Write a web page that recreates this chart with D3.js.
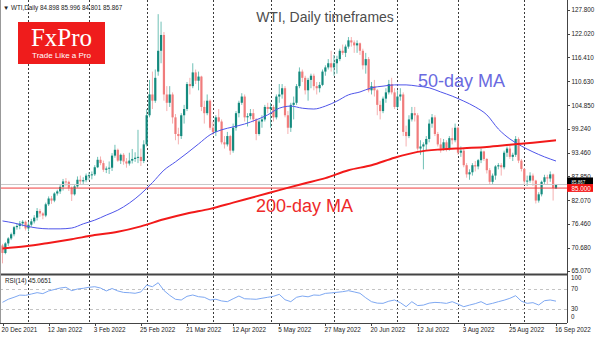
<!DOCTYPE html>
<html>
<head>
<meta charset="utf-8">
<script src="https://cdn.jsdelivr.net/npm/d3@7"></script>
<style>
  html, body { margin: 0; padding: 0; background: #fff; }
  svg { display: block; }
</style>
</head>
<body>
<svg id="chart" width="600" height="338"></svg>
<script>
// ---- data ---------------------------------------------------------------
const tickLabels = ["20 Dec 2021", "12 Jan 2022", "3 Feb 2022", "25 Feb 2022", "21 Mar 2022",
  "12 Apr 2022", "5 May 2022", "27 May 2022", "20 Jun 2022", "12 Jul 2022", "3 Aug 2022",
  "25 Aug 2022", "16 Sep 2022"];
const tickBars = [0, 16, 32, 48, 64, 80, 96, 112, 128, 144, 160, 176, 192];
const monthStartBars = [9, 30, 50, 73, 93, 115, 137, 158, 181];
const priceTicks = [127.800, 122.020, 116.410, 110.630, 104.850, 99.240, 93.460, 87.850,
  82.070, 76.460, 70.680, 65.070];
const rsiTicks = [100, 70, 30, 0];

const opens = [71.2,69.4,71.7,72.9,73.9,75.6,75.9,76.5,76.9,75.3,76.2,77.0,77.9,79.5,78.9,78.4,81.1,82.5,82.0,83.7,
  84.2,85.3,86.6,86.5,85.1,83.5,85.4,87.0,86.6,86.9,88.0,88.1,88.3,90.0,91.8,91.0,89.4,89.7,89.9,92.8,
  94.2,91.6,93.0,91.4,90.9,91.6,92.0,92.3,92.5,91.5,95.5,102.5,107.5,106.0,113.0,118.0,121.8,107.5,105.5,107.5,
  102.0,98.0,97.5,102.5,104.0,110.0,109.5,112.8,110.8,111.8,104.5,103.0,106.0,99.5,98.5,102.0,101.0,96.0,95.5,97.5,
  94.0,99.5,103.0,105.5,107.0,102.0,102.3,103.0,101.5,98.0,101.0,101.5,104.5,104.0,104.5,102.0,107.0,107.5,109.0,102.5,
  99.5,105.0,105.5,109.5,113.0,111.5,108.5,111.0,112.0,109.5,109.0,109.8,113.0,114.0,115.0,114.0,115.0,116.0,118.0,117.5,
  119.0,120.5,120.0,119.3,119.8,118.0,114.5,116.0,108.5,109.5,108.5,105.0,103.5,106.5,108.0,110.0,108.0,104.5,107.0,107.5,
  98.5,97.5,101.5,103.0,102.5,94.5,95.0,95.5,96.8,100.5,102.0,98.0,95.5,94.5,96.0,94.5,97.0,96.5,99.5,93.5,
  94.0,90.5,88.3,88.8,90.5,90.2,91.7,93.8,92.0,89.3,86.5,88.0,90.2,90.5,90.0,93.5,94.5,92.5,93.0,96.8,
  91.6,89.6,86.6,86.8,88.0,86.8,82.0,83.5,86.5,87.6,87.3,88.3,84.898];
const highs = [71.6,72.0,73.2,74.3,75.9,76.6,77.1,77.3,77.2,76.9,77.6,78.5,80.2,80.0,79.2,81.5,83.0,83.1,84.0,84.6,
  85.8,87.2,87.4,86.8,85.4,85.8,87.8,88.0,87.6,88.5,88.8,89.0,90.5,92.5,92.6,91.6,90.2,91.4,93.4,95.4,
  94.5,93.3,93.4,92.2,93.5,94.4,93.6,99.0,94.5,96.5,104.0,111.0,113.0,113.5,126.8,125.0,122.5,109.5,109.5,108.0,
  102.8,99.5,103.0,105.0,110.5,111.5,115.0,113.5,113.0,112.0,106.0,107.5,106.3,101.0,102.5,104.0,101.5,97.5,98.5,97.8,
  100.5,103.5,106.0,107.8,107.5,103.0,104.0,104.0,101.8,101.5,102.5,105.0,105.5,105.5,105.0,107.5,110.0,110.0,109.5,103.5,
  105.5,107.0,110.0,114.0,113.5,112.0,111.5,112.5,112.5,110.5,110.5,113.5,114.5,116.0,118.0,117.0,116.8,118.5,119.5,119.5,
  121.3,121.3,120.5,120.5,120.0,118.5,117.5,116.5,110.5,111.0,108.8,106.0,107.0,109.0,111.0,111.5,109.0,108.5,109.0,108.0,
  100.0,102.5,104.5,104.5,103.0,96.5,96.0,97.5,101.5,102.8,102.5,98.5,97.0,96.8,96.5,97.5,99.5,100.5,99.8,95.0,
  94.5,91.0,89.5,91.0,91.5,92.0,94.5,94.0,92.2,89.8,88.5,90.5,91.0,91.0,94.0,95.0,95.2,93.5,97.5,97.2,
  92.0,89.8,88.0,88.8,88.5,87.0,84.0,86.8,88.2,88.2,89.0,88.5,85.996];
const lows = [66.9,69.1,71.1,72.5,73.4,75.0,75.1,75.8,74.8,74.6,75.7,76.5,77.2,78.1,77.5,78.0,80.7,81.2,81.6,83.2,
  83.6,84.4,85.4,84.3,81.9,83.2,85.1,85.8,86.0,86.4,86.9,87.1,87.9,89.8,90.5,88.9,88.6,88.4,89.1,92.3,
  91.3,90.8,90.6,89.9,90.4,90.9,91.3,91.0,90.3,91.0,95.0,102.0,104.0,105.5,112.0,115.0,106.0,103.5,104.5,100.5,
  96.5,95.5,96.8,100.5,103.5,107.5,109.0,110.0,108.5,103.5,100.5,102.5,99.0,97.8,97.5,100.8,95.5,94.5,95.0,93.0,
  93.5,98.8,102.0,105.0,101.0,99.8,101.5,100.8,96.5,97.6,99.5,101.0,103.0,99.5,101.0,101.5,105.5,106.5,102.0,98.0,
  98.5,101.5,105.0,109.0,110.5,107.5,106.0,109.0,108.5,107.5,108.0,109.5,112.0,113.5,113.0,112.0,112.5,115.5,117.0,116.5,
  118.5,119.0,117.5,117.5,117.0,113.5,112.5,108.0,107.5,107.0,102.5,101.5,103.0,105.5,107.5,107.5,104.0,104.0,106.0,97.5,
  95.0,97.0,101.0,101.0,94.0,93.0,89.5,94.0,96.0,99.5,97.5,95.0,93.5,94.0,93.8,94.0,95.5,96.0,93.0,92.5,
  90.0,87.5,87.0,88.0,89.0,89.5,91.0,91.5,88.5,85.8,86.0,87.0,89.5,88.0,89.5,92.5,92.0,91.5,92.5,91.0,
  89.0,86.0,85.5,86.3,85.5,81.3,81.5,83.0,86.0,86.0,86.5,82.0,84.801];
const closes = [69.4,71.7,72.9,73.9,75.6,75.9,76.5,76.9,75.3,76.2,77.0,77.9,79.5,78.9,78.4,81.1,82.5,82.0,83.7,84.2,
  85.3,86.6,86.5,85.1,83.5,85.4,87.0,86.6,86.9,88.0,88.1,88.3,90.0,91.8,91.0,89.4,89.7,89.9,92.8,94.2,
  91.6,93.0,91.4,90.9,91.6,92.0,92.3,92.5,91.5,95.5,102.5,107.5,106.0,111.5,118.0,121.8,107.5,105.5,107.5,102.0,
  98.0,97.5,102.5,104.0,110.0,109.5,112.8,110.8,111.8,104.5,103.0,106.0,99.5,98.5,102.0,101.0,96.0,95.5,97.5,94.0,
  99.5,103.0,105.5,107.0,102.0,102.3,103.0,101.5,98.0,101.0,101.5,104.5,104.0,104.5,102.0,107.0,107.5,109.0,102.5,99.5,
  105.0,105.5,109.5,113.0,111.5,108.5,111.0,112.0,109.5,109.0,109.8,113.0,114.0,115.0,114.0,115.0,116.0,118.0,117.5,119.0,
  120.5,120.0,119.3,119.8,118.0,114.5,116.0,108.5,109.5,108.5,105.0,103.5,106.5,108.0,110.0,108.0,104.5,107.0,107.5,98.5,
  97.5,101.5,103.0,102.5,94.5,95.0,95.5,96.8,100.5,102.0,98.0,95.5,94.5,96.0,94.5,97.0,96.5,99.5,93.5,94.0,
  90.5,88.3,88.8,90.5,90.2,91.7,93.8,92.0,89.3,86.5,88.0,90.2,90.5,90.0,93.5,94.5,92.5,93.0,96.8,91.6,
  89.6,86.6,86.8,88.0,86.8,82.0,83.5,86.5,87.6,87.3,88.3,85.0,85.867];

// moving averages, one reading every few bars
const ma50Step = 4;
const ma50 = [77.1,76.6,75.9,75.4,75.2,75.2,75.4,76.4,77.3,78.5,79.7,81.4,83.6,86.3,89.3,91.3,93.4,95.6,97.8,99.0,
  99.7,100.4,101.4,102.6,104.2,104.7,104.2,104.0,104.7,105.9,107.4,108.1,109.1,109.5,109.8,109.8,109.5,109.1,108.1,107.1,
  105.9,104.5,102.6,99.2,96.8,95.1,93.7,92.5,91.5];
const ma200Step = 8;
const ma200 = [70.5,71.0,71.8,72.7,73.7,74.5,75.8,77.5,78.9,80.0,81.5,83.0,84.5,86.0,87.4,89.3,90.5,92.3,93.7,94.3,
  94.6,94.9,95.4,95.9,96.5];
const rsiStep = 2;
const rsi = [42.7,49,53,57.5,57,59.7,62.5,60.5,66,69,72,73.5,66.6,70,71.4,73.5,74.7,72,66,71,
  66,63,62.4,61.2,64,78,74.7,82.9,67,57,48.9,47.4,55,57.7,54.2,53,47.4,49,45.5,44,
  50,55.6,50,49.5,48.9,51,53,55,59.1,48,44,53,55.6,54,57.7,57,61,62,63.2,64.5,
  66.6,64,61.2,52,44,41,40.6,45,47.4,42,33.7,44,36,37,41,42.5,41.9,40.5,44,39,
  33.7,37,40,44,38,40.6,44,47,50.9,56.3,45,40.6,42,37.2,46,47.5,45.0651];

const levelLine = 85.000;
const lastBid = 85.867;

// ---- layout -------------------------------------------------------------
const W = 600, H = 338;
const axisX = 567;            // right price axis
const mainTop = 0, mainBottom = 274;
const rsiTop = 275, rsiBottom = 323;

const svg = d3.select("#chart");
const FONT = "'Liberation Sans', Arial, sans-serif";

const x = d3.scaleLinear().domain([0, 192]).range([2.5, 556]);
const y = d3.scaleLinear().domain([65.07, 127.8]).range([271, 10]);
const yr = d3.scaleLinear().domain([30, 70]).range([308.5, 289]);

svg.append("rect").attr("width", W).attr("height", H).attr("fill", "#fff");

const defs = svg.append("defs");
defs.append("clipPath").attr("id", "clipMain").append("rect")
  .attr("x", 0).attr("y", mainTop).attr("width", axisX).attr("height", mainBottom - mainTop);
defs.append("clipPath").attr("id", "clipRsi").append("rect")
  .attr("x", 0).attr("y", rsiTop).attr("width", axisX).attr("height", rsiBottom - rsiTop);

// month separators
svg.append("g").selectAll("line").data(monthStartBars).join("line")
  .attr("x1", d => Math.round(x(d)) + 0.5).attr("x2", d => Math.round(x(d)) + 0.5)
  .attr("y1", 0).attr("y2", rsiBottom)
  .attr("stroke", "#3a3a3a").attr("stroke-width", 1).attr("stroke-dasharray", "2,2");

// RSI levels
svg.append("g").selectAll("line").data([70, 30]).join("line")
  .attr("x1", 0).attr("x2", axisX)
  .attr("y1", d => Math.round(yr(d)) + 0.5).attr("y2", d => Math.round(yr(d)) + 0.5)
  .attr("stroke", "#c4c4c4").attr("stroke-dasharray", "3,3");

// logo
const logo = svg.append("g");
logo.append("rect").attr("x", 18).attr("y", 22).attr("width", 87).attr("height", 42).attr("fill", "#ef1c1c");
logo.append("text").attr("x", 61.5).attr("y", 46).attr("text-anchor", "middle")
  .attr("font-family", "'Liberation Serif', 'Times New Roman', serif").attr("font-size", 25)
  .attr("fill", "#fff").text("FxPro");
logo.append("text").attr("x", 61.5).attr("y", 57.5).attr("text-anchor", "middle")
  .attr("font-family", FONT).attr("font-size", 8).attr("fill", "#fff").text("Trade Like a Pro");

// candles
const main = svg.append("g").attr("clip-path", "url(#clipMain)");
const idx = d3.range(closes.length);
const up = i => closes[i] >= opens[i];
main.append("g").selectAll("line").data(idx).join("line")
  .attr("x1", i => x(i)).attr("x2", i => x(i))
  .attr("y1", i => y(highs[i])).attr("y2", i => y(lows[i]))
  .attr("stroke", i => up(i) ? "#6fc0b6" : "#f5b0b0").attr("stroke-width", 1);
main.append("g").selectAll("rect").data(idx).join("rect")
  .attr("x", i => x(i) - 1.1).attr("width", 2.2)
  .attr("y", i => y(Math.max(opens[i], closes[i])))
  .attr("height", i => Math.max(1, Math.abs(y(opens[i]) - y(closes[i]))))
  .attr("fill", i => up(i) ? "#148a7e" : "#f07c7c");

// price lines
main.append("line").attr("x1", 0).attr("x2", axisX)
  .attr("y1", y(lastBid)).attr("y2", y(lastBid)).attr("stroke", "#c8c8c8");
main.append("line").attr("x1", 0).attr("x2", axisX)
  .attr("y1", y(levelLine)).attr("y2", y(levelLine)).attr("stroke", "#f03c3c");

// moving averages
const ma50Line = d3.line().x((d, k) => x(k * ma50Step)).y(d => y(d)).curve(d3.curveMonotoneX);
const ma200Line = d3.line().x((d, k) => x(k * ma200Step)).y(d => y(d)).curve(d3.curveMonotoneX);
main.append("path").datum(ma50).attr("d", ma50Line)
  .attr("fill", "none").attr("stroke", "#4f55ea").attr("stroke-width", 1);
main.append("path").datum(ma200).attr("d", ma200Line)
  .attr("fill", "none").attr("stroke", "#f21a1a").attr("stroke-width", 2);

// chart texts
svg.append("text").attr("x", 325).attr("y", 22).attr("text-anchor", "middle")
  .attr("font-family", FONT).attr("font-size", 14).attr("fill", "#4d4d4d")
  .text("WTI, Daily timeframes");
svg.append("text").attr("x", 418).attr("y", 86.5)
  .attr("font-family", FONT).attr("font-size", 18).attr("fill", "#6a6ae0").text("50-day MA");
svg.append("text").attr("x", 256).attr("y", 211.5)
  .attr("font-family", FONT).attr("font-size", 18).attr("fill", "#ee2a2a").text("200-day MA");

// header line
svg.append("text").attr("x", 3).attr("y", 9.5)
  .attr("font-family", FONT).attr("font-size", 6.3).attr("fill", "#222")
  .text("\u25BC WTI,Daily  " + [opens[192], highs[192], lows[192], closes[192]].map(d => d.toFixed(3)).join(" "));

// RSI
const rsiG = svg.append("g").attr("clip-path", "url(#clipRsi)");
const rsiLine = d3.line().x((d, k) => x(k * rsiStep)).y(d => yr(d)).curve(d3.curveLinear);
rsiG.append("path").datum(rsi).attr("d", rsiLine)
  .attr("fill", "none").attr("stroke", "#7ea8f2").attr("stroke-width", 1);
svg.append("text").attr("x", 5).attr("y", 282.5)
  .attr("font-family", FONT).attr("font-size", 6.3).attr("fill", "#222")
  .text("RSI(14) " + rsi[rsi.length - 1].toFixed(4));

// frame
svg.append("line").attr("x1", 0).attr("x2", axisX).attr("y1", mainBottom + 0.5).attr("y2", mainBottom + 0.5)
  .attr("stroke", "#444").attr("stroke-width", 2);
svg.append("line").attr("x1", 0).attr("x2", axisX).attr("y1", rsiBottom + 0.5).attr("y2", rsiBottom + 0.5)
  .attr("stroke", "#444").attr("stroke-width", 1);
svg.append("line").attr("x1", axisX + 0.5).attr("x2", axisX + 0.5).attr("y1", 0).attr("y2", rsiBottom)
  .attr("stroke", "#444").attr("stroke-width", 1);
svg.append("line").attr("x1", 0.5).attr("x2", 0.5).attr("y1", 0).attr("y2", rsiBottom)
  .attr("stroke", "#999").attr("stroke-width", 1);

// price axis
const pa = svg.append("g");
pa.selectAll("line").data(priceTicks).join("line")
  .attr("x1", axisX).attr("x2", axisX + 3)
  .attr("y1", d => Math.round(y(d)) + 0.5).attr("y2", d => Math.round(y(d)) + 0.5)
  .attr("stroke", "#444");
pa.selectAll("text").data(priceTicks).join("text")
  .attr("x", axisX + 4.5).attr("y", d => y(d) + 2.3)
  .attr("font-family", FONT).attr("font-size", 6.3).attr("fill", "#222")
  .text(d => d.toFixed(3));

// price tags: last bid (mostly covered) and the 85.000 level
pa.append("rect").attr("x", axisX).attr("y", y(lastBid) - 7).attr("width", 26).attr("height", 7).attr("fill", "#000");
pa.append("text").attr("x", axisX + 4.5).attr("y", y(lastBid) - 0.7)
  .attr("font-family", FONT).attr("font-size", 4.5).attr("fill", "#fff").text(lastBid.toFixed(3));
pa.append("rect").attr("x", axisX).attr("y", y(levelLine) - 4).attr("width", 26).attr("height", 7.8).attr("fill", "#f41414");
pa.append("text").attr("x", axisX + 4.5).attr("y", y(levelLine) + 2.8)
  .attr("font-family", FONT).attr("font-size", 6.3).attr("fill", "#fff").text(levelLine.toFixed(3));

// RSI axis
const ra = svg.append("g");
ra.selectAll("text").data(rsiTicks).join("text")
  .attr("x", axisX + 4).attr("y", d => Math.min(317, Math.max(278, yr(d))) + 2.3)
  .attr("font-family", FONT).attr("font-size", 6.3).attr("fill", "#222")
  .text(d => d);

// time axis
const ta = svg.append("g");
ta.selectAll("line").data(tickBars).join("line")
  .attr("x1", d => Math.round(x(d)) + 0.5).attr("x2", d => Math.round(x(d)) + 0.5)
  .attr("y1", rsiBottom).attr("y2", rsiBottom + 3)
  .attr("stroke", "#444");
ta.selectAll("text").data(tickBars).join("text")
  .attr("x", d => x(d) - 1).attr("y", 331.5)
  .attr("font-family", FONT).attr("font-size", 6.3).attr("fill", "#222")
  .text((d, k) => tickLabels[k]);
</script>
</body>
</html>
